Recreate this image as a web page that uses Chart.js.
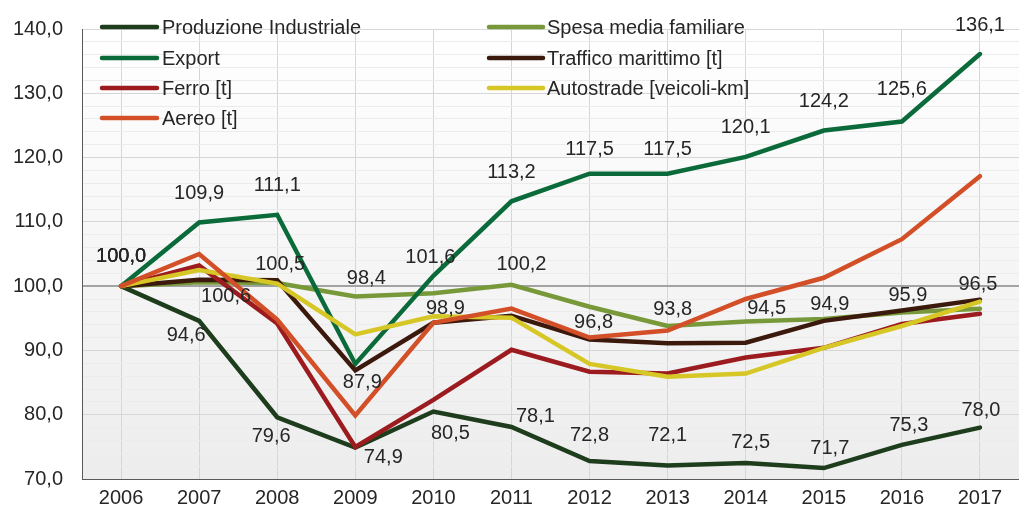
<!DOCTYPE html>
<html>
<head>
<meta charset="utf-8">
<script src="https://cdn.jsdelivr.net/npm/chart.js@4"></script>
<style>
  body { margin: 0; background: #fff; }
  #wrap { width: 1019px; height: 514px; position: relative; }
</style>
</head>
<body>
<div id="wrap"><canvas id="indexChart"></canvas></div>
<script>
const anni = ["2006", "2007", "2008", "2009", "2010", "2011", "2012", "2013", "2014", "2015", "2016", "2017"];

const produzione = [100.0, 94.6, 79.6, 74.9, 80.5, 78.1, 72.8, 72.1, 72.5, 71.7, 75.3, 78.0];
const spesa = [100.0, 100.6, 100.5, 98.4, 98.9, 100.2, 96.8, 93.8, 94.5, 94.9, 95.9, 96.5];
const exportVal = [100.0, 109.9, 111.1, 87.9, 101.6, 113.2, 117.5, 117.5, 120.1, 124.2, 125.6, 136.1];
const traffico = [100.0, 101.0, 100.9, 86.9, 94.3, 95.4, 91.7, 91.1, 91.2, 94.6, 96.2, 97.9];
const ferro = [100.0, 103.2, 94.2, 75.0, 82.3, 90.1, 86.7, 86.4, 88.9, 90.4, 94.1, 95.7];
const autostrade = [100.0, 102.5, 100.4, 92.5, 95.3, 95.1, 87.9, 85.9, 86.4, 90.4, 93.8, 97.6];
const aereo = [100.0, 105.0, 94.8, 79.9, 94.3, 96.5, 92.0, 93.1, 98.0, 101.3, 107.3, 117.1];

const yTicks = [70, 80, 90, 100, 110, 120, 130, 140];

const fmt = v => v.toFixed(1).replace(".", ",");
const FONT = '"Liberation Sans", Arial, sans-serif';
const TXT = "#262626";

// serie con etichette: spostamento dell'etichetta rispetto al punto (px)
const etichette = [
  { data: produzione,
    dx: [0, -13, -6, 28, 17, 24, 0, 0, 5, 6, 7, 1],
    dy: [-30, 15, 19, 10, 22, -10, -26, -30, -20, -20, -19, -17] },
  { data: spesa,
    dx: [0, 27, 3, 11, 12, 10, 4, 5, 21, 6, 6, -2],
    dy: [-30, 14, -18, -18, 15, -20, 16, -17, -13, -14, -17, -24] },
  { data: exportVal,
    dx: [0, 0, 0, 7, -3, 0, 0, 0, 0, 0, 0, 0],
    dy: [-30, -29, -29, 19, -18, -29, -24, -24, -29, -29, -32, -29] }
];

const serie = [
  { label: "Produzione Industriale", data: produzione, color: "#1d3d1c" },
  { label: "Spesa media familiare", data: spesa, color: "#77993a" },
  { label: "Export", data: exportVal, color: "#0b6a39" },
  { label: "Traffico marittimo [t]", data: traffico, color: "#3b190c" },
  { label: "Ferro [t]", data: ferro, color: "#9b1b1e" },
  { label: "Autostrade [veicoli-km]", data: autostrade, color: "#d6c726" },
  { label: "Aereo [t]", data: aereo, color: "#d24f28" }
];

const sfondo = {
  id: "sfondo",
  beforeDraw(chart) {
    const { ctx, chartArea: a } = chart;
    const g = ctx.createLinearGradient(0, a.top, 0, a.bottom);
    g.addColorStop(0, "#ffffff");
    g.addColorStop(1, "#ededed");
    ctx.save();
    ctx.fillStyle = g;
    ctx.fillRect(a.left, a.top, a.right - a.left, a.bottom - a.top);
    ctx.restore();
  }
};

const valori = {
  id: "valori",
  afterDatasetsDraw(chart) {
    const { ctx, scales } = chart;
    ctx.save();
    ctx.font = "20px " + FONT;
    ctx.fillStyle = TXT;
    ctx.textAlign = "center";
    ctx.textBaseline = "middle";
    etichette.forEach(s => {
      s.data.forEach((v, i) => {
        const x = scales.x.getPixelForValue(i) + s.dx[i];
        const y = scales.y.getPixelForValue(v) + s.dy[i];
        ctx.fillText(fmt(v), x, y);
      });
    });
    ctx.restore();
  }
};

const legenda = {
  id: "legenda",
  afterDraw(chart) {
    const { ctx } = chart;
    const col = [{ x1: 102, x2: 157, t: 162 }, { x1: 489, x2: 543, t: 547 }];
    const righe = [27, 58, 88, 118];
    ctx.save();
    ctx.font = "20px " + FONT;
    ctx.fillStyle = TXT;
    ctx.textBaseline = "middle";
    ctx.lineWidth = 4.5;
    ctx.lineCap = "round";
    serie.forEach((s, i) => {
      const c = col[i % 2];
      const y = righe[Math.floor(i / 2)];
      ctx.strokeStyle = s.color;
      ctx.beginPath();
      ctx.moveTo(c.x1, y);
      ctx.lineTo(c.x2, y);
      ctx.stroke();
      ctx.fillText(s.label, c.t, y + 1);
    });
    ctx.restore();
  }
};

new Chart(document.getElementById("indexChart"), {
  type: "line",
  data: {
    labels: anni,
    datasets: serie.map((s, i) => ({
      label: s.label,
      data: s.data,
      borderColor: s.color,
      backgroundColor: s.color,
      borderWidth: 4.5,
      borderCapStyle: "round",
      pointRadius: 0,
      tension: 0,
      fill: false,
      order: serie.length - i
    }))
  },
  options: {
    responsive: true,
    maintainAspectRatio: false,
    animation: false,
    layout: { padding: { top: 15, right: 0, left: 0, bottom: 0 } },
    plugins: {
      legend: { display: false },
      tooltip: { enabled: false }
    },
    scales: {
      x: {
        offset: true,
        afterFit(scale) { scale.height = 35; },
        grid: { color: "#d6d6d6", lineWidth: 1, drawTicks: false, offset: false },
        border: { color: "#595959", width: 1 },
        ticks: { color: TXT, font: { family: FONT, size: 20 }, padding: 7, maxRotation: 0 }
      },
      y: {
        min: yTicks[0],
        max: yTicks[yTicks.length - 1],
        afterFit(scale) { scale.width = 82; },
        ticks: {
          stepSize: 2,
          autoSkip: false,
          color: TXT,
          font: { family: FONT, size: 20, lineHeight: 1 },
          padding: 19,
          callback: v => (yTicks.includes(v) ? fmt(v) : "")
        },
        grid: {
          drawTicks: false,
          color: c => (c.tick.value === 100 ? "#a3a3a3" : yTicks.includes(c.tick.value) ? "#d6d6d6" : "#ececec"),
          lineWidth: c => (c.tick.value === 100 ? 2 : 1)
        },
        border: { color: "#595959", width: 1 }
      }
    }
  },
  plugins: [sfondo, valori, legenda]
});
</script>
</body>
</html>
